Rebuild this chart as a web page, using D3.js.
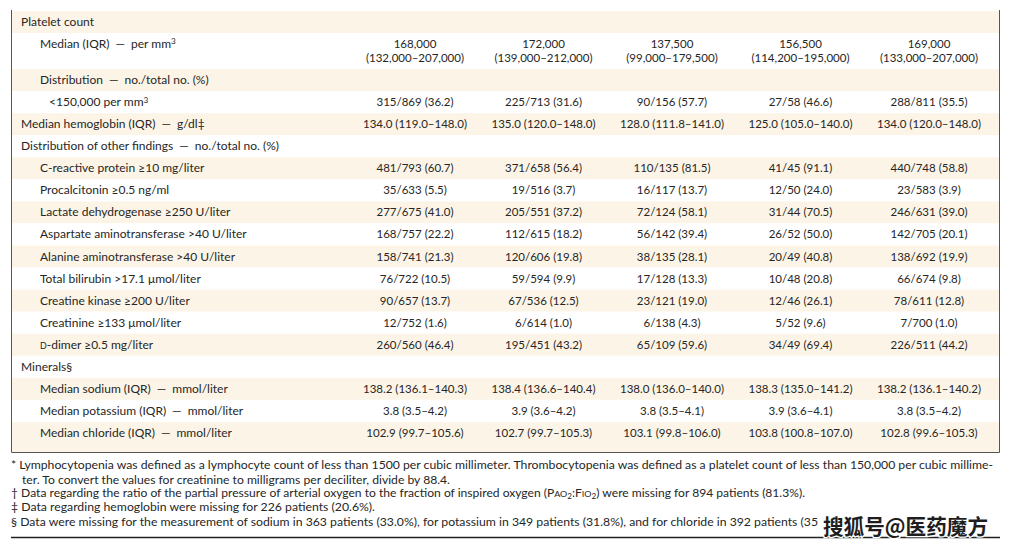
<!DOCTYPE html>
<html><head><meta charset="utf-8">
<script src="https://cdn.jsdelivr.net/npm/d3@7"></script>
<style>body{margin:0;background:#fff}svg{display:block}</style>
</head><body><svg id="chart" width="1011" height="548"></svg>
<script>
// ---------- data ----------
const rowLabels = [
  "Platelet count",
  "Median (IQR) — per mm^3",
  "Distribution — no./total no. (%)",
  "<150,000 per mm^3",
  "Median hemoglobin (IQR) — g/dl‡",
  "Distribution of other findings — no./total no. (%)",
  "C-reactive protein ≥10 mg/liter",
  "Procalcitonin ≥0.5 ng/ml",
  "Lactate dehydrogenase ≥250 U/liter",
  "Aspartate aminotransferase >40 U/liter",
  "Alanine aminotransferase >40 U/liter",
  "Total bilirubin >17.1 μmol/liter",
  "Creatine kinase ≥200 U/liter",
  "Creatinine ≥133 μmol/liter",
  "{D}-dimer ≥0.5 mg/liter",
  "Minerals§",
  "Median sodium (IQR) — mmol/liter",
  "Median potassium (IQR) — mmol/liter",
  "Median chloride (IQR) — mmol/liter"
];
const rowLevels = [0,1,1,2,0,0,1,1,1,1,1,1,1,1,1,0,1,1,1];
const group1 = ["", "168,000|(132,000–207,000)", "", "315/869 (36.2)", "134.0 (119.0–148.0)", "", "481/793 (60.7)", "35/633 (5.5)", "277/675 (41.0)", "168/757 (22.2)", "158/741 (21.3)", "76/722 (10.5)", "90/657 (13.7)", "12/752 (1.6)", "260/560 (46.4)", "", "138.2 (136.1–140.3)", "3.8 (3.5–4.2)", "102.9 (99.7–105.6)"];
const group2 = ["", "172,000|(139,000–212,000)", "", "225/713 (31.6)", "135.0 (120.0–148.0)", "", "371/658 (56.4)", "19/516 (3.7)", "205/551 (37.2)", "112/615 (18.2)", "120/606 (19.8)", "59/594 (9.9)", "67/536 (12.5)", "6/614 (1.0)", "195/451 (43.2)", "", "138.4 (136.6–140.4)", "3.9 (3.6–4.2)", "102.7 (99.7–105.3)"];
const group3 = ["", "137,500|(99,000–179,500)", "", "90/156 (57.7)", "128.0 (111.8–141.0)", "", "110/135 (81.5)", "16/117 (13.7)", "72/124 (58.1)", "56/142 (39.4)", "38/135 (28.1)", "17/128 (13.3)", "23/121 (19.0)", "6/138 (4.3)", "65/109 (59.6)", "", "138.0 (136.0–140.0)", "3.8 (3.5–4.1)", "103.1 (99.8–106.0)"];
const group4 = ["", "156,500|(114,200–195,000)", "", "27/58 (46.6)", "125.0 (105.0–140.0)", "", "41/45 (91.1)", "12/50 (24.0)", "31/44 (70.5)", "26/52 (50.0)", "20/49 (40.8)", "10/48 (20.8)", "12/46 (26.1)", "5/52 (9.6)", "34/49 (69.4)", "", "138.3 (135.0–141.2)", "3.9 (3.6–4.1)", "103.8 (100.8–107.0)"];
const group5 = ["", "169,000|(133,000–207,000)", "", "288/811 (35.5)", "134.0 (120.0–148.0)", "", "440/748 (58.8)", "23/583 (3.9)", "246/631 (39.0)", "142/705 (20.1)", "138/692 (19.9)", "66/674 (9.8)", "78/611 (12.8)", "7/700 (1.0)", "226/511 (44.2)", "", "138.2 (136.1–140.2)", "3.8 (3.5–4.2)", "102.8 (99.6–105.3)"];
const groups = ["g1","g2","g3","g4","g5"];
const footnotes = [
  "* Lymphocytopenia was defined as a lymphocyte count of less than 1500 per cubic millimeter. Thrombocytopenia was defined as a platelet count of less than 150,000 per cubic millime-",
  "ter. To convert the values for creatinine to milligrams per deciliter, divide by 88.4.",
  "† Data regarding the ratio of the partial pressure of arterial oxygen to the fraction of inspired oxygen (P{AO}_2:F{IO}_2) were missing for 894 patients (81.3%).",
  "‡ Data regarding hemoglobin were missing for 226 patients (20.6%).",
  "§ Data were missing for the measurement of sodium in 363 patients (33.0%), for potassium in 349 patients (31.8%), and for chloride in 392 patients (35"
];
const watermark = "搜狐号@医药魔方";

// ---------- layout ----------
const W = 1011, H = 548;
const tableTop = 11, tableBottom = 452, tableLeft = 11.5, tableRight = 999.5;
const lineH = 14, rowH = 22, lastPad = 8;
const fnX = [11, 22, 11, 11, 11];
const fnEnd = [993, 450, 805, 375, 818];
const fnY = [469, 484, 497, 511, 526];
const indent = [21, 40, 49];
const font = "Lato, 'Open Sans', sans-serif";
const textColor = "#262626";
const cream = "#fcf5e7";

const svg = d3.select("#chart");
svg.append("rect").attr("width", W).attr("height", H).attr("fill", "#fff");

const columns = [group1, group2, group3, group4, group5];
const rows = rowLabels.map((label, i) => {
  const vals = columns.map(c => c[i]);
  const lines = d3.max(vals, v => v.split("|").length);
  return {label, level: rowLevels[i], vals, lines, h: rowH + lineH * (lines - 1) + (i === rowLabels.length - 1 ? lastPad : 0)};
});
const cum = [0, ...d3.cumsum(rows, r => r.h)];
const y = d3.scaleLinear().domain([0, cum[cum.length - 1]]).range([tableTop, tableBottom]);
const x = d3.scalePoint().domain(groups).range([415, 929]);

function rich(sel, str) {
  const parts = str.split(/(\^\d|_\d|\{[A-Z]+\}| — )/).filter(s => s.length);
  let shift = 0;
  parts.forEach(p => {
    const t = sel.append("tspan");
    if (p[0] === "^") {
      t.text(p.slice(1)).attr("font-size", "0.68em").attr("dy", "-0.45em"); shift = 1;
    } else if (p[0] === "_") {
      t.text(p.slice(1)).attr("font-size", "0.68em").attr("dy", "0.3em"); shift = -1;
    } else {
      if (p[0] === "{") t.text(p.slice(1, -1)).attr("font-size", "0.74em");
      else if (p === " — ") t.text("\u2002—\u2002").attr("font-size", "1em");
      else t.text(p);
      if (shift) { t.attr("dy", shift > 0 ? "0.306em" : "-0.204em"); shift = 0; }
    }
  });
}

// stripes
svg.append("g").selectAll("rect").data(rows).join("rect")
  .attr("x", tableLeft).attr("width", tableRight - tableLeft)
  .attr("y", (d, i) => y(cum[i])).attr("height", (d, i) => y(cum[i + 1]) - y(cum[i]))
  .attr("fill", (d, i) => i % 2 === 0 ? cream : "#fff");

// labels
const gl = svg.append("g").attr("font-family", font).attr("font-size", 12).attr("fill", textColor);
rows.forEach((r, i) => {
  const t = gl.append("text").attr("x", indent[r.level]).attr("y", y(cum[i]) + 11 + 4);
  rich(t, r.label);
});

// values
const gv = svg.append("g").attr("font-family", font).attr("font-size", 11.5).attr("fill", textColor).attr("text-anchor", "middle");
rows.forEach((r, i) => {
  r.vals.forEach((v, j) => {
    if (!v) return;
    v.split("|").forEach((line, k) => {
      gv.append("text").attr("x", x(groups[j])).attr("y", y(cum[i]) + 11 + 4 + k * lineH).text(line);
    });
  });
});

// borders
const gb = svg.append("g").attr("stroke", "#555").attr("stroke-width", 1).attr("fill", "none");
gb.append("line").attr("x1", tableLeft).attr("x2", tableLeft).attr("y1", tableTop - 1).attr("y2", tableBottom + 0.5);
gb.append("line").attr("x1", tableRight).attr("x2", tableRight).attr("y1", tableTop - 1).attr("y2", tableBottom + 0.5);
gb.append("line").attr("x1", tableLeft).attr("x2", tableRight).attr("y1", tableBottom + 0.5).attr("y2", tableBottom + 0.5);

// footnotes
const gf = svg.append("g").attr("font-family", font).attr("font-size", 11).attr("fill", textColor);
footnotes.forEach((f, i) => {
  const t = gf.append("text").attr("x", fnX[i]).attr("y", fnY[i])
    .attr("textLength", fnEnd[i] - fnX[i]).attr("lengthAdjust", "spacingAndGlyphs");
  rich(t, f);
});
svg.append("line").attr("x1", 11).attr("x2", 1000).attr("y1", 537.5).attr("y2", 537.5)
  .attr("stroke", "#222").attr("stroke-width", 1.3);

// watermark
svg.append("text").attr("x", 823).attr("y", 534).attr("font-family", "'Noto Sans CJK SC', sans-serif")
  .attr("font-size", 21).attr("font-weight", 700).attr("fill", "#1e1e1e")
  .attr("stroke", "#fff").attr("stroke-width", 2.5).attr("paint-order", "stroke")
  .attr("textLength", 165).attr("lengthAdjust", "spacingAndGlyphs").text(watermark);
</script>
</body></html>
